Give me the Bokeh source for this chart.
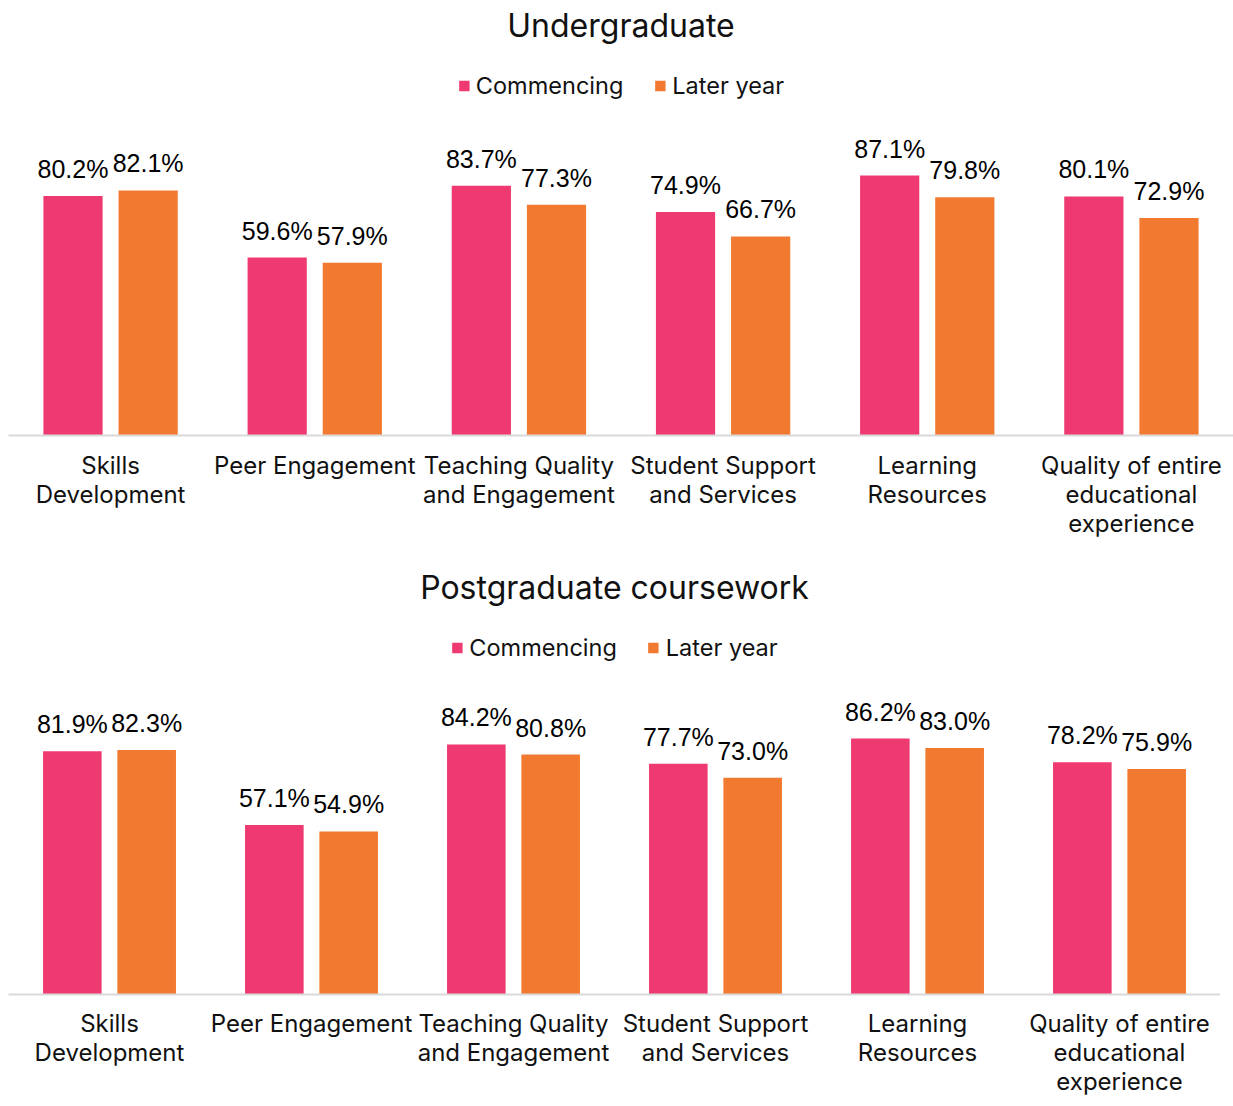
from bokeh.plotting import figure
from bokeh.models import FactorRange, ColumnDataSource, LabelSet, Label, Legend, LegendItem, Range1d
from bokeh.transform import dodge
from bokeh.core.properties import value
from bokeh.layouts import column
from bokeh.embed import file_html
from bokeh.resources import INLINE

categories = ["Skills\nDevelopment", "Peer Engagement", "Teaching Quality\nand Engagement",
              "Student Support\nand Services", "Learning\nResources",
              "Quality of entire\neducational\nexperience"]
series = ["Commencing", "Later year"]
titles = ["Undergraduate", "Postgraduate coursework"]
ug_commencing = [80.2, 59.6, 83.7, 74.9, 87.1, 80.1]
ug_later = [82.1, 57.9, 77.3, 66.7, 79.8, 72.9]
pg_commencing = [81.9, 57.1, 84.2, 77.7, 86.2, 78.2]
pg_later = [82.3, 54.9, 80.8, 73.0, 83.0, 75.9]

PINK = "#EF3A71"
ORANGE = "#F27A30"
FONT = "Inter"
LBL_FONT = "Liberation Sans"


def panel(title, comm, later, frame_w, frame_h, border_bottom, ppu, title_y, legend_y, standoff):
    y_end = frame_h / ppu
    p = figure(x_range=FactorRange(*categories), y_range=Range1d(0, y_end),
               width=frame_w + 8, height=frame_h + border_bottom,
               output_backend="svg", toolbar_location=None, y_axis_location=None,
               min_border_top=0, min_border_left=8, min_border_right=0,
               min_border_bottom=border_bottom)
    p.outline_line_color = None
    p.xgrid.visible = False
    p.ygrid.visible = False
    p.xaxis.axis_line_color = "#d9d9d9"
    p.xaxis.axis_line_width = 2
    p.xaxis.major_tick_line_color = None
    p.xaxis.minor_tick_line_color = None
    p.xaxis.major_tick_out = 0
    p.xaxis.major_tick_in = 0
    p.xaxis.major_label_standoff = standoff
    p.xaxis.major_label_text_font = FONT
    p.xaxis.major_label_text_font_size = "24px"
    p.xaxis.major_label_text_color = "#111111"
    p.xaxis.major_label_text_line_height = 1.0

    src = ColumnDataSource(dict(
        cat=categories, comm=comm, later=later,
        comm_lbl=[f"{v:.1f}%" for v in comm],
        later_lbl=[f"{v:.1f}%" for v in later],
    ))
    off = 0.184
    bw = 0.29
    r1 = p.vbar(x=dodge("cat", -off, range=p.x_range), top="comm", width=bw,
                source=src, fill_color=PINK, line_color=None)
    r2 = p.vbar(x=dodge("cat", off, range=p.x_range), top="later", width=bw,
                source=src, fill_color=ORANGE, line_color=None)
    for field, lbl, o in (("comm", "comm_lbl", -off), ("later", "later_lbl", off)):
        ls = LabelSet(x=dodge("cat", o, range=p.x_range), y=field, text=lbl, source=src,
                      text_align="center", text_baseline="alphabetic", y_offset=18,
                      text_font=value(LBL_FONT), text_font_size=value("25px"),
                      text_color="#000000")
        p.add_layout(ls)

    legend = Legend(items=[LegendItem(label=series[0], renderers=[r1]),
                           LegendItem(label=series[1], renderers=[r2])],
                    orientation="horizontal", location="top_center")
    legend.glyph_width = 13
    legend.glyph_height = 13
    legend.label_standoff = 6
    legend.spacing = 30
    legend.padding = 0
    legend.margin = int(legend_y - 14)
    legend.border_line_color = None
    legend.background_fill_alpha = 0
    legend.label_text_font = FONT
    legend.label_text_font_size = "23.5px"
    legend.label_text_color = "#111111"
    p.add_layout(legend)

    t = Label(x=3, y=(frame_h - title_y) / ppu, text=title, text_align="center",
              text_baseline="middle", text_font=FONT, text_font_size="32px",
              text_color="#111111")
    p.add_layout(t)
    return p


top = panel(titles[0], ug_commencing, ug_later, 1225, 435, 116, 2.985, 25, 85, 15)
bottom = panel(titles[1], pg_commencing, pg_later, 1212, 449, 98, 3.01, 36, 96, 14)

layout = column(top, bottom, spacing=0)
open("out.html", "w").write(file_html(layout, INLINE))
